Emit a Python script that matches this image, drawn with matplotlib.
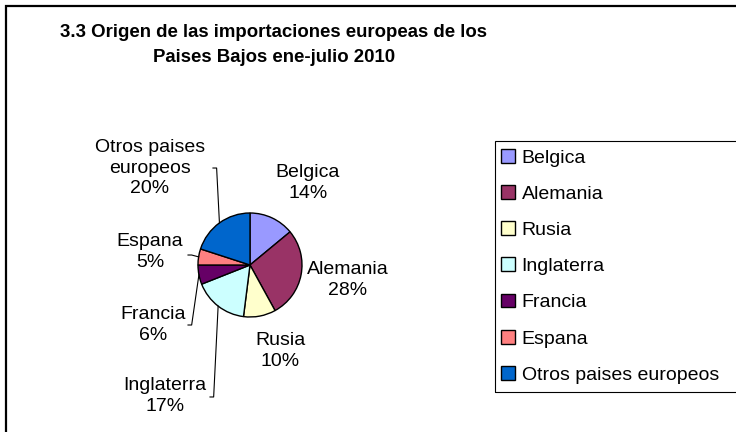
import numpy as np
import matplotlib
matplotlib.use("Agg")
import matplotlib.pyplot as plt
from matplotlib.patches import Rectangle

# ===== data =====
paises = ['Belgica', 'Alemania', 'Rusia', 'Inglaterra', 'Francia', 'Espana',
          'Otros paises europeos']
etiquetas = ['Belgica', 'Alemania', 'Rusia', 'Inglaterra', 'Francia', 'Espana',
             'Otros paises\neuropeos']
porcentajes = [14, 28, 10, 17, 6, 5, 20]
colores = ['#9999FF', '#993366', '#FFFFCC', '#CCFFFF', '#660066', '#FF8080', '#0066CC']

titulo = '3.3 Origen de las importaciones europeas de los\nPaises Bajos ene-julio 2010'

# label centres (pie radius units) and leader anchors (None = no leader)
pos_etiq = [(1.115, 1.577), (1.885, -0.288), (0.577, -1.654), (-1.635, -2.519),
            (-1.865, -1.154), (-1.923, 0.25), (-1.923, 1.865)]
ancla = [None, None, None, (-0.769, -2.538), (-1.192, -1.154), (-1.192, 0.192),
         (-0.712, 1.865)]

plt.rcParams['font.family'] = ['Liberation Sans', 'DejaVu Sans']

W, H = 736, 432
fig = plt.figure(figsize=(W / 100, H / 100), dpi=100)

# outer chart frame (right and bottom edges fall outside the picture)
fig.patches.append(Rectangle((6 / W, -0.5), 2.0, 1.5 - 6 / H, transform=fig.transFigure,
                             fill=False, edgecolor='black', linewidth=1.6))
# legend box, cut by the right edge
fig.patches.append(Rectangle((495 / W, 1 - 392 / H), 0.5, (392 - 141) / H,
                             transform=fig.transFigure, fill=False,
                             edgecolor='black', linewidth=0.8))

fig.text(274 / W, 1 - 45 / H, titulo, ha='center', va='center', fontsize=13.4,
         fontweight='bold', linespacing=1.6)

# pie axes: centre (250,265), radius 52 px
cx, cy, r = 250, 265, 52
ax = fig.add_axes([(cx - r) / W, (H - cy - r) / H, 2 * r / W, 2 * r / H])
wedges, _ = ax.pie(porcentajes, colors=colores, startangle=90, counterclock=False,
                   radius=1, wedgeprops=dict(edgecolor='black', linewidth=1.0))
ax.set_xlim(-1, 1)
ax.set_ylim(-1, 1)
ax.set_aspect('equal')
ax.axis('off')

for w, txt, p, (tx, ty), a in zip(wedges, etiquetas, porcentajes, pos_etiq, ancla):
    ax.text(tx, ty, f'{txt}\n{p}%', ha='center', va='center', fontsize=14,
            linespacing=1.3, clip_on=False)
    if a is not None:
        ang = np.deg2rad((w.theta1 + w.theta2) / 2)
        px, py = np.cos(ang), np.sin(ang)
        ax.plot([a[0], a[0] + 0.07, px], [a[1], a[1], py], color='black',
                linewidth=0.8, clip_on=False)

leg = fig.legend(wedges, paises, loc='upper left', bbox_to_anchor=(495 / W, 1 - 143 / H),
                 fontsize=14, frameon=False, borderaxespad=0,
                 handlelength=0.72, handleheight=0.72, handletextpad=0.35,
                 labelspacing=0.95, borderpad=0.3)

fig.savefig('out.png', dpi=100)
